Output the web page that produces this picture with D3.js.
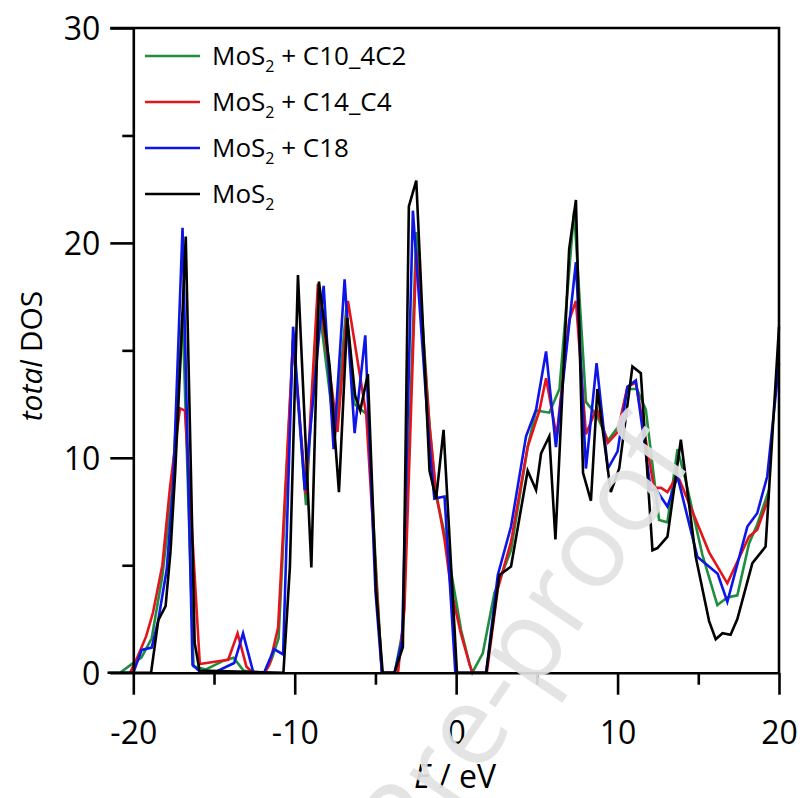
<!DOCTYPE html>
<html>
<head>
<meta charset="utf-8">
<script src="https://cdn.jsdelivr.net/npm/d3@7"></script>
<style>
  body { margin: 0; background: #fff; }
  text { font-family: "Open Sans", "DejaVu Sans", sans-serif; }
</style>
</head>
<body>
<script>
// total DOS, [E in eV, DOS]
var dosC10 = [[-21.55,0],[-20.82,0],[-20.1,0.4],[-19.5,0.7],[-18.86,1.6],[-18.2,4.5],[-17.6,8.5],[-16.95,16.8],[-16.27,0.3],[-15.5,0.15],[-14.43,0.55],[-13.79,0.7],[-13.17,0.1],[-12.58,0],[-11.86,0],[-11.44,0.6],[-11.0,1.6],[-10.1,15.5],[-9.3,7.8],[-8.56,17.5],[-7.5,11.0],[-6.8,17.0],[-6.3,12.5],[-5.5,12.0],[-4.6,0],[-3.8,0],[-3.3,2.0],[-2.47,20.5],[-1.65,11.5],[-1.24,8.2],[-0.72,6.5],[0.3,2.0],[0.83,0.4],[1.0,0],[1.65,0.9],[2.37,3.7],[3.4,5.7],[4.43,10.5],[4.95,12.2],[5.77,12.1],[6.4,13.2],[7.31,21.5],[8.04,12.6],[8.7,12.0],[9.4,10.8],[10.1,11.5],[10.6,13.2],[11.2,13.2],[11.75,12.24],[12.57,7.11],[13.09,7.0],[13.71,10.4],[14.2,9.0],[15.25,5.5],[16.18,3.15],[16.8,3.5],[17.42,3.6],[18.14,6.0],[18.65,6.9],[19.38,8.5]];
var dosC14 = [[-20.2,0],[-19.7,0.8],[-19.2,1.7],[-18.78,2.8],[-18.2,5.0],[-17.73,8.6],[-17.11,12.3],[-16.8,12.2],[-15.88,0.4],[-15.05,0.5],[-14.12,0.6],[-13.54,1.83],[-12.99,0.28],[-12.58,0],[-11.86,0],[-11.55,0.4],[-11.03,2.1],[-10.1,15.5],[-9.3,8.3],[-8.56,18.1],[-7.35,11.2],[-6.7,17.3],[-5.57,12.0],[-4.6,0],[-3.6,0],[-3.2,3.0],[-2.47,19.6],[-2.0,15.0],[-1.65,11.5],[-1.24,8.4],[-0.72,6.2],[-0.3,3.8],[0.3,1.8],[0.83,0.4],[1.0,0],[1.9,0],[2.58,3.9],[3.4,6.1],[4.43,10.5],[5.16,12.2],[5.57,13.7],[6.22,11.0],[7.0,16.4],[7.42,17.3],[8.04,11.1],[8.7,12.3],[9.4,10.7],[10.0,11.2],[10.61,13.3],[11.13,13.5],[12.26,8.6],[12.7,8.6],[13.09,8.4],[13.71,9.2],[15.67,5.6],[16.8,4.16],[18.14,6.33],[18.65,6.65],[19.38,8.2]];
var dosC18 = [[-20.8,0],[-20.0,0],[-19.48,1.06],[-18.86,1.17],[-18.45,2.45],[-17.93,4.8],[-17.53,8.7],[-16.95,20.7],[-16.33,0.36],[-15.8,0],[-15.0,0],[-13.75,0.45],[-13.2,1.83],[-12.58,0.05],[-11.9,0],[-11.28,1.1],[-10.72,0.85],[-10.1,16.1],[-9.38,8.5],[-8.21,18.0],[-7.59,10.4],[-6.91,18.3],[-6.29,11.15],[-5.63,15.7],[-5.0,3.8],[-4.6,0],[-3.82,0],[-3.35,1.5],[-2.68,21.5],[-1.65,10.5],[-1.35,8.1],[-0.72,8.2],[-0.05,0],[1.86,0],[2.58,4.55],[3.4,6.8],[4.33,11.0],[4.95,12.24],[5.57,14.95],[6.18,10.5],[7.42,19.1],[8.04,9.5],[8.7,14.4],[9.4,9.5],[10.0,10.3],[10.61,13.3],[11.13,13.6],[12.06,8.5],[12.4,8.5],[13.09,7.73],[13.71,9.13],[14.94,5.4],[16.2,4.6],[16.8,3.3],[18.04,6.8],[18.65,7.42],[19.27,9.13],[20.0,14.4]];
var dosMoS2 = [[-21.6,0],[-18.9,0],[-18.45,2.45],[-18.0,3.1],[-17.7,5.6],[-17.4,9.4],[-17.05,15.0],[-16.75,20.3],[-16.2,1.4],[-15.9,0.1],[-10.7,0],[-10.3,4.9],[-9.8,18.5],[-8.97,4.9],[-8.5,18.2],[-7.84,14.3],[-7.26,8.4],[-6.75,16.5],[-6.26,12.9],[-5.94,12.2],[-5.47,13.9],[-4.95,3.7],[-4.55,0],[-3.82,0],[-3.3,1.2],[-2.93,21.7],[-2.47,22.9],[-1.65,9.4],[-1.24,8.1],[-0.78,11.3],[0.05,0],[1.86,0],[2.68,4.55],[3.4,4.94],[4.43,9.4],[4.95,8.5],[5.26,10.2],[5.77,11.0],[6.15,6.2],[7.0,19.7],[7.42,22.0],[7.86,9.3],[8.35,8.0],[8.75,13.2],[9.58,8.4],[10.1,9.5],[10.92,14.25],[11.44,13.94],[12.16,5.7],[12.47,5.8],[13.09,6.33],[13.92,10.84],[14.84,5.4],[15.67,2.4],[16.08,1.56],[16.5,1.84],[17.0,1.77],[17.42,2.5],[18.35,5.1],[19.17,5.87],[20.0,16.1]];

var seriesNames = ["C10_4C2", "C14_C4", "C18", ""];
var seriesColors = ["#1f8f3f", "#e4141c", "#0d16e6", "#000000"];
var seriesData = [dosC10, dosC14, dosC18, dosMoS2];

var xMajor = [-20, -10, 0, 10, 20],
    xMinor = [-15, -5, 5, 15];
var yMajor = [0, 10, 20, 30],
    yMinor = [5, 15, 25];

var width = 805,
    height = 798;
var plotLeft = 133.3, plotRight = 779, plotTop = 28, plotBottom = 672.7;

var svg = d3.select("body").append("svg")
    .attr("width", width)
    .attr("height", height);

var x = d3.scaleLinear().domain([-20, 20]).range([plotLeft, plotRight]);
var y = d3.scaleLinear().domain([0, 30]).range([plotBottom, plotTop]);

var line = d3.line()
    .x(function(d) { return x(d[0]); })
    .y(function(d) { return y(d[1]); });

// curves, black drawn last
svg.append("g")
  .selectAll("path")
    .data(seriesData)
  .enter().append("path")
    .attr("d", line)
    .attr("fill", "none")
    .attr("stroke", function(d, i) { return seriesColors[i]; })
    .attr("stroke-width", 2.6)
    .attr("stroke-linejoin", "miter");

// frame: top and right edges
svg.append("path")
    .attr("d", "M" + (plotLeft - 23) + "," + plotTop + "H" + plotRight + "V" + plotBottom)
    .attr("fill", "none")
    .attr("stroke", "#000")
    .attr("stroke-width", 2.6);

// axes
var xAxis = svg.append("g")
    .attr("transform", "translate(0," + plotBottom + ")")
    .call(d3.axisBottom(x).tickValues(xMajor).tickSize(22).tickSizeOuter(0).tickFormat(d3.format("d")));
svg.append("g")
    .attr("transform", "translate(0," + plotBottom + ")")
    .call(d3.axisBottom(x).tickValues(xMinor).tickSize(12).tickSizeOuter(0).tickFormat(""))
    .select(".domain").remove();
var yAxis = svg.append("g")
    .attr("transform", "translate(" + plotLeft + ",0)")
    .call(d3.axisLeft(y).tickValues(yMajor).tickSize(23).tickSizeOuter(0).tickFormat(d3.format("d")));
svg.append("g")
    .attr("transform", "translate(" + plotLeft + ",0)")
    .call(d3.axisLeft(y).tickValues(yMinor).tickSize(11).tickSizeOuter(0).tickFormat(""))
    .select(".domain").remove();

svg.selectAll(".domain, .tick line")
    .attr("stroke", "#000")
    .attr("stroke-width", 2.6);

xAxis.selectAll("text")
    .attr("y", 71)
    .attr("dy", 0)
    .style("font-size", "32px")
    .style("font-family", "'Open Sans', sans-serif")
    .attr("fill", "#000")
    .text(function(d) { return d < 0 ? "-" + Math.abs(d) : d; });
yAxis.selectAll("text")
    .attr("x", -33)
    .attr("dy", "0.36em")
    .style("font-size", "32px")
    .style("font-family", "'Open Sans', sans-serif")
    .attr("fill", "#000");

// axis titles
var xTitle = svg.append("text")
    .attr("x", 455)
    .attr("y", 788)
    .attr("text-anchor", "middle")
    .style("font-size", "32px");
xTitle.append("tspan").style("font-style", "italic").text("E");
xTitle.append("tspan").text(" / eV");

var yTitle = svg.append("text")
    .attr("transform", "translate(42,356) rotate(-90)")
    .attr("text-anchor", "middle")
    .style("font-size", "30px");
yTitle.append("tspan").style("font-style", "italic").text("total");
yTitle.append("tspan").text(" DOS");

// legend
var legend = svg.append("g")
  .selectAll("g")
    .data(seriesNames)
  .enter().append("g")
    .attr("transform", function(d, i) { return "translate(145," + (56 + i * 46) + ")"; });
legend.append("line")
    .attr("x1", 0).attr("x2", 55)
    .attr("stroke", function(d, i) { return seriesColors[i]; })
    .attr("stroke-width", 2.6);
var lt = legend.append("text")
    .attr("x", 67)
    .attr("y", 9)
    .style("font-size", "26px");
lt.append("tspan").text("MoS");
lt.append("tspan").attr("dy", 7).style("font-size", "16px").text("2");
lt.append("tspan").attr("dy", -7).text(function(d) { return d ? " + " + d : ""; });

// journal watermark
svg.append("text")
    .attr("transform", "translate(695,458) rotate(-56)")
    .attr("text-anchor", "end")
    .style("font-size", "112px")
    .attr("fill", "#e2e2e2")
    .attr("fill-opacity", 0.92)
    .text("Journal Pre-proof");
</script>
</body>
</html>
